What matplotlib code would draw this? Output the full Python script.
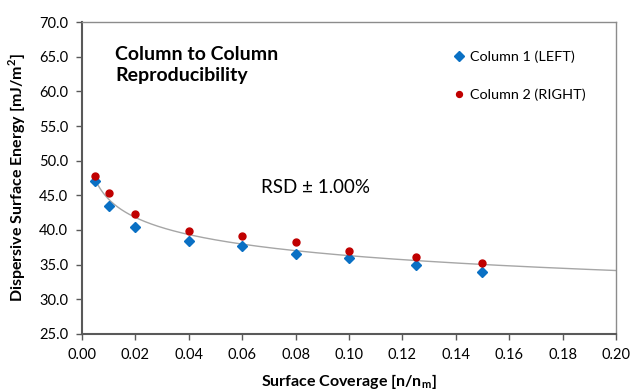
import numpy as np
import matplotlib
matplotlib.use("Agg")
import matplotlib.pyplot as plt

plt.rcParams['font.family'] = ['Lato', 'DejaVu Sans']

# データ
coverage = [0.005, 0.01, 0.02, 0.04, 0.06, 0.08, 0.10, 0.125, 0.15]
col1_left = [47.0, 43.4, 40.5, 38.4, 37.7, 36.6, 35.9, 35.0, 34.0]
col2_right = [47.8, 45.4, 42.3, 39.9, 39.1, 38.2, 37.0, 36.1, 35.3]

x_ticks = [0.00, 0.02, 0.04, 0.06, 0.08, 0.10, 0.12, 0.14, 0.16, 0.18, 0.20]
y_ticks = [25.0, 30.0, 35.0, 40.0, 45.0, 50.0, 55.0, 60.0, 65.0, 70.0]

# べき乗近似（両カラムまとめて）
xs = np.array(coverage * 2)
ys = np.array(col1_left + col2_right)
b, log_a = np.polyfit(np.log(xs), np.log(ys), 1)
x_fit = np.linspace(0.005, 0.2, 400)
y_fit = np.exp(log_a) * x_fit ** b

fig = plt.figure(figsize=(6.33, 3.91), dpi=100)
ax = fig.add_axes([0.1295, 0.1458, 0.8435, 0.7979])

ax.plot(x_fit, y_fit, color='#a6a6a6', lw=1.0, zorder=2)
ax.plot(coverage, col1_left, 'D', color='#0a70c4', ms=5.5, mec='#0a70c4',
        label='Column 1 (LEFT)', zorder=3)
ax.plot(coverage, col2_right, 'o', color='#c00000', ms=5, label='Column 2 (RIGHT)', zorder=4)

ax.set_xlim(0, 0.2)
ax.set_ylim(25, 70)
ax.set_xticks(x_ticks)
ax.set_yticks(y_ticks)
ax.set_xticklabels([f'{t:.2f}' for t in x_ticks])
ax.set_yticklabels([f'{t:.1f}' for t in y_ticks])
ax.tick_params(direction='out', length=4, width=1, color='#595959', labelsize=10.5, pad=6)

for s in ['left', 'bottom']:
    ax.spines[s].set_color('#595959')
    ax.spines[s].set_linewidth(1.5)
for s in ['top', 'right']:
    ax.spines[s].set_color('#8c8c8c')
    ax.spines[s].set_linewidth(1.0)

ax.set_xlabel('Surface Coverage [n/n$_\\mathregular{m}$]', fontsize=11.5, fontweight='bold', labelpad=7)
ax.set_ylabel('Dispersive Surface Energy [mJ/m$^\\mathregular{2}$]', fontsize=11.5, fontweight='bold', labelpad=8)

ax.text(0.062, 0.923, 'Column to Column\nReproducibility', transform=ax.transAxes,
        fontsize=14, fontweight='bold', va='top', linespacing=1.3)
ax.text(0.335, 0.47, 'RSD ± 1.00%', transform=ax.transAxes, fontsize=13.5, va='center')

ax.legend(loc='upper left', bbox_to_anchor=(0.665, 0.95), frameon=False, fontsize=10.4,
          handletextpad=0.15, labelspacing=1.75, handlelength=1.2, markerscale=0.85)

fig.savefig('out.png', dpi=100)
